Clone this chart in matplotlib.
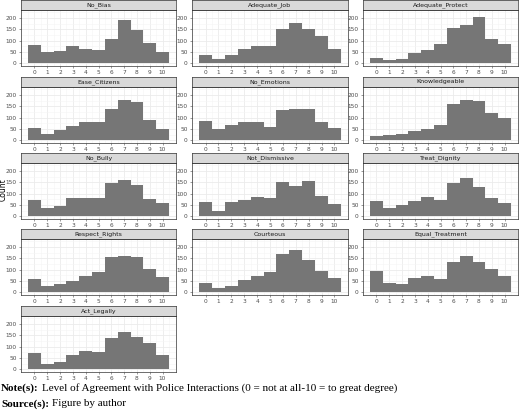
import matplotlib
matplotlib.use("Agg")
import matplotlib.pyplot as plt

names = ["No_Bias","Adequate_Job","Adequate_Protect","Ease_Citizens","No_Emotions","Knowledgeable",
         "No_Bully","Not_Dismissive","Treat_Dignity","Respect_Rights","Courteous","Equal_Treatment","Act_Legally"]
levels = list(range(11))
counts = {
 "No_Bias":[80,50,55,75,62,60,108,193,148,92,50],
 "Adequate_Job":[37,18,35,65,78,78,152,178,150,120,62],
 "Adequate_Protect":[22,15,20,45,58,85,155,170,205,107,87],
 "Ease_Citizens":[53,30,45,62,80,80,137,178,168,92,52],
 "No_Emotions":[85,48,68,83,83,58,133,138,140,80,53],
 "Knowledgeable":[20,25,27,42,52,68,162,180,175,122,97],
 "No_Bully":[73,38,45,80,80,80,148,162,138,77,57],
 "Not_Dismissive":[63,22,62,73,85,80,152,135,158,90,53],
 "Treat_Dignity":[68,35,52,67,85,70,148,170,130,82,60],
 "Respect_Rights":[57,28,35,52,70,88,155,160,155,105,67],
 "Courteous":[43,20,28,55,73,90,170,188,142,95,62],
 "Equal_Treatment":[95,42,37,63,73,60,132,162,135,105,70],
 "Act_Legally":[73,25,33,62,80,77,140,167,142,115,62],
}
yticks = [0,50,100,150,200]

W, H = 520, 412
fig = plt.figure(figsize=(W/100, H/100), dpi=100)
col_x = [(21,176),(192,348),(363,518)]
row_top = [0,77,153,229,306]
strip_h, panel_h = 10, 56

for i, n in enumerate(names):
    r, c = divmod(i, 3)
    x0, x1 = col_x[c]
    t = row_top[r]
    ax = fig.add_axes([x0/W, 1-(t+strip_h+panel_h)/H, (x1-x0)/W, panel_h/H])
    ax.bar(levels, counts[n], width=1.0, color="#767676", linewidth=0, zorder=3)
    ax.set_xlim(-1.05, 11.05)
    ax.set_ylim(-12, 236)
    ax.set_xticks(levels)
    ax.set_yticks(yticks)
    ax.set_xticks([x+0.5 for x in range(-1, 11)], minor=True)
    ax.set_yticks([25,75,125,175,225], minor=True)
    ax.grid(True, which="major", color="#ebebeb", linewidth=0.6, zorder=0)
    ax.grid(True, which="minor", color="#f5f5f5", linewidth=0.4, zorder=0)
    ax.tick_params(which="minor", length=0)
    ax.tick_params(which="major", labelsize=4.2, length=1.5, width=0.4, colors="#4d4d4d", pad=1.5)
    for s in ax.spines.values():
        s.set_color("#333333"); s.set_linewidth(0.5)
    sax = fig.add_axes([x0/W, 1-(t+strip_h)/H, (x1-x0)/W, strip_h/H])
    sax.set_facecolor("#d9d9d9")
    sax.set_xticks([]); sax.set_yticks([])
    for s in sax.spines.values():
        s.set_color("#333333"); s.set_linewidth(0.5)
    sax.text(0.5, 0.5, n, ha="center", va="center", fontsize=4.5, color="#1a1a1a", transform=sax.transAxes)

fig.text(3.5/W, 1-190/H, "Count", rotation=90, ha="center", va="center", fontsize=5.5)

fs = 8
fig.text(1/W, 1-388/H, "Note(s):", fontfamily="Liberation Serif", fontweight="bold", fontsize=fs, va="center")
fig.text(42/W, 1-388/H, "Level of Agreement with Police Interactions (0 = not at all-10 = to great degree)",
         fontfamily="Liberation Serif", fontsize=fs, va="center")
fig.text(1/W, 1-404/H, "Source(s):", fontfamily="Liberation Serif", fontweight="bold", fontsize=fs, va="center")
fig.text(52/W, 1-404/H, "Figure by author", fontfamily="Liberation Serif", fontsize=fs, va="center")

fig.savefig("out.png", dpi=100)
